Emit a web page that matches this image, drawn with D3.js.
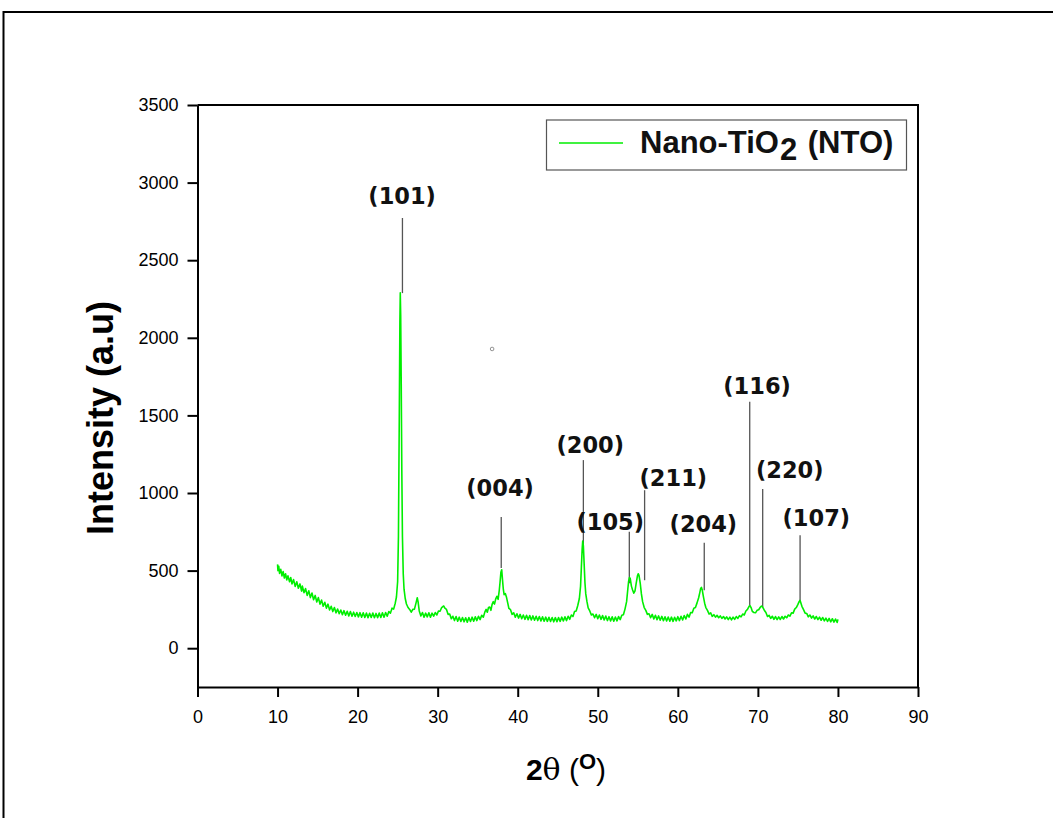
<!DOCTYPE html>
<html>
<head>
<meta charset="utf-8">
<script src="https://cdn.jsdelivr.net/npm/d3@7"></script>
<style>
  body { margin: 0; background: #fff; }
  svg { display: block; }
</style>
</head>
<body>
<script>
// XRD scan of nano-TiO2 (2theta, counts)
const scan = [
  [10.0, 540], [10.05, 500], [10.15, 528], [10.25, 482], [10.4, 508], [10.55, 466], [10.7, 494], [10.85, 452],
  [11.0, 480], [11.15, 440], [11.3, 466], [11.5, 428], [11.65, 455], [11.8, 414], [12.0, 442], [12.2, 398],
  [12.4, 428], [12.6, 386], [12.8, 414], [13.0, 368], [13.1, 400], [13.3, 358], [13.5, 384], [13.7, 340],
  [13.9, 370], [14.1, 326], [14.3, 356], [14.5, 312], [14.7, 340], [14.9, 298], [15.1, 326], [15.3, 284],
  [15.5, 310], [15.7, 270], [15.9, 296], [16.1, 258], [16.3, 284], [16.5, 246], [16.7, 270], [16.9, 236],
  [17.1, 262], [17.3, 228], [17.5, 252], [17.7, 222], [17.9, 246], [18.1, 216], [18.3, 242], [18.5, 212],
  [18.7, 238], [18.9, 208], [19.1, 236], [19.3, 206], [19.5, 232], [19.7, 204], [19.9, 230], [20.1, 202],
  [20.3, 229], [20.5, 200], [20.7, 228], [20.9, 198], [21.1, 226], [21.3, 197], [21.5, 225], [21.7, 198],
  [21.9, 226], [22.1, 196], [22.3, 224], [22.5, 197], [22.7, 226], [22.9, 198], [23.1, 228], [23.3, 200],
  [23.5, 230], [23.7, 206], [23.9, 236], [24.1, 226], [24.3, 258], [24.5, 252], [24.7, 290], [24.85, 330],
  [25.0, 430], [25.1, 720], [25.2, 1450], [25.28, 2100], [25.33, 2290], [25.38, 2150], [25.45, 1700], [25.52, 1150],
  [25.6, 720], [25.7, 480], [25.8, 380], [25.95, 320], [26.1, 285], [26.3, 262], [26.5, 250], [26.7, 232],
  [26.9, 250], [27.1, 252], [27.3, 292], [27.45, 325], [27.55, 300], [27.7, 240], [27.9, 208], [28.1, 230],
  [28.3, 200], [28.5, 226], [28.7, 202], [28.9, 228], [29.1, 200], [29.3, 226], [29.5, 206], [29.7, 230],
  [29.9, 214], [30.1, 240], [30.3, 238], [30.5, 262], [30.75, 272], [30.9, 258], [31.1, 250], [31.3, 218],
  [31.5, 220], [31.7, 190], [31.9, 206], [32.1, 178], [32.3, 204], [32.5, 174], [32.7, 200], [32.9, 172],
  [33.1, 198], [33.3, 170], [33.5, 196], [33.7, 168], [33.9, 198], [34.1, 172], [34.3, 200], [34.5, 174],
  [34.7, 202], [34.9, 178], [35.1, 206], [35.3, 184], [35.5, 212], [35.7, 200], [35.9, 234], [36.05, 250],
  [36.2, 232], [36.35, 262], [36.5, 265], [36.65, 244], [36.8, 282], [36.95, 300], [37.1, 284], [37.25, 318],
  [37.4, 335], [37.55, 315], [37.7, 375], [37.8, 430], [37.9, 490], [38.0, 505], [38.1, 440], [38.2, 380],
  [38.3, 345], [38.45, 352], [38.6, 328], [38.75, 292], [38.9, 256], [39.1, 248], [39.3, 218], [39.5, 228],
  [39.7, 200], [39.9, 222], [40.1, 194], [40.3, 218], [40.5, 190], [40.7, 214], [40.9, 186], [41.1, 212],
  [41.3, 184], [41.5, 210], [41.7, 182], [41.9, 208], [42.1, 180], [42.3, 206], [42.5, 178], [42.7, 204],
  [42.9, 176], [43.1, 202], [43.3, 174], [43.5, 200], [43.7, 173], [43.9, 199], [44.1, 172], [44.3, 198],
  [44.5, 170], [44.7, 197], [44.9, 171], [45.1, 198], [45.3, 173], [45.5, 200], [45.7, 175], [45.9, 202],
  [46.1, 178], [46.3, 206], [46.5, 186], [46.7, 214], [46.9, 204], [47.1, 236], [47.3, 240], [47.5, 275],
  [47.7, 320], [47.85, 400], [47.95, 520], [48.05, 640], [48.12, 690], [48.2, 660], [48.3, 540], [48.4, 420],
  [48.5, 350], [48.65, 300], [48.8, 260], [49.0, 240], [49.2, 214], [49.4, 220], [49.6, 196], [49.8, 218],
  [50.0, 190], [50.2, 214], [50.4, 186], [50.6, 210], [50.8, 182], [51.0, 207], [51.2, 178], [51.4, 203],
  [51.6, 176], [51.8, 202], [52.0, 174], [52.2, 201], [52.4, 176], [52.6, 204], [52.8, 184], [53.0, 212],
  [53.2, 215], [53.4, 252], [53.6, 300], [53.75, 380], [53.85, 430], [53.95, 455], [54.05, 450], [54.2, 400],
  [54.35, 375], [54.5, 355], [54.65, 370], [54.8, 420], [54.95, 465], [55.05, 480], [55.15, 470], [55.3, 420],
  [55.45, 350], [55.6, 300], [55.8, 262], [56.0, 244], [56.2, 218], [56.4, 222], [56.6, 196], [56.8, 218],
  [57.0, 188], [57.2, 212], [57.4, 184], [57.6, 208], [57.8, 180], [58.0, 205], [58.2, 177], [58.4, 202],
  [58.6, 175], [58.8, 201], [59.0, 174], [59.2, 200], [59.4, 173], [59.6, 199], [59.8, 176], [60.0, 203],
  [60.2, 178], [60.4, 206], [60.6, 182], [60.8, 211], [61.0, 188], [61.2, 218], [61.4, 200], [61.6, 230],
  [61.8, 228], [62.0, 258], [62.2, 262], [62.4, 292], [62.6, 325], [62.75, 360], [62.85, 385], [62.95, 392],
  [63.05, 375], [63.2, 330], [63.35, 290], [63.5, 262], [63.7, 244], [63.9, 220], [64.1, 228], [64.3, 205],
  [64.5, 216], [64.7, 200], [64.9, 212], [65.1, 196], [65.3, 208], [65.5, 192], [65.7, 204], [65.9, 188],
  [66.1, 202], [66.3, 184], [66.5, 200], [66.7, 182], [66.9, 200], [67.1, 186], [67.3, 204], [67.5, 192],
  [67.7, 210], [67.9, 202], [68.1, 220], [68.3, 214], [68.5, 240], [68.7, 250], [68.9, 270], [69.0, 275],
  [69.15, 262], [69.3, 238], [69.5, 230], [69.7, 228], [69.9, 244], [70.1, 248], [70.3, 264], [70.45, 272],
  [70.6, 265], [70.8, 245], [71.0, 230], [71.2, 204], [71.4, 212], [71.6, 192], [71.8, 206], [72.0, 186],
  [72.2, 204], [72.4, 184], [72.6, 202], [72.8, 185], [73.0, 204], [73.2, 188], [73.4, 206], [73.6, 196],
  [73.8, 214], [74.0, 206], [74.2, 228], [74.4, 226], [74.6, 252], [74.8, 262], [75.0, 282], [75.15, 300],
  [75.25, 308], [75.35, 295], [75.5, 270], [75.7, 248], [75.9, 226], [76.1, 224], [76.3, 202], [76.5, 214],
  [76.7, 194], [76.9, 208], [77.1, 188], [77.3, 204], [77.5, 184], [77.7, 200], [77.9, 180], [78.1, 198],
  [78.3, 176], [78.5, 194], [78.7, 172], [78.9, 192], [79.1, 170], [79.3, 190], [79.5, 168], [79.7, 188],
  [79.9, 166], [80.0, 186]
];

// hkl labels + their pointer lines
const peakLabels = ["(101)", "(004)", "(200)", "(105)", "(211)", "(204)", "(116)", "(220)", "(107)"];
const peakLinePos = [25.6, 37.94, 48.2, 53.94, 55.85, 63.3, 68.98, 70.6, 75.27];
const peakLineTop = [2772, 846, 1212, 750, 1018, 679, 1588, 1025, 728];
const peakLineBottom = [2288, 516, 621, 419, 438, 374, 277, 266, 298];
const labelPos = [25.56, 37.8, 49.06, 51.56, 59.44, 63.19, 69.9, 73.98, 77.3];
const labelLevel = [2862, 980, 1260, 764, 1045, 750, 1638, 1096, 788];

const xTicks = [0, 10, 20, 30, 40, 50, 60, 70, 80, 90];
const yTicks = [0, 500, 1000, 1500, 2000, 2500, 3000, 3500];

const width = 1053;
const height = 818;
const green = "#00ee00";

const svg = d3.select("body")
  .append("svg")
  .attr("width", width)
  .attr("height", height);

// outer frame (only top/left visible in the picture)
svg.append("rect")
  .attr("x", 3.5).attr("y", 12)
  .attr("width", 1200).attr("height", 1000)
  .attr("fill", "none")
  .attr("stroke", "#000")
  .attr("stroke-width", 2);

const x = d3.scaleLinear().domain([0, 90]).range([197.5, 918]);
const y = d3.scaleLinear().domain([-250, 3500]).range([687, 105]);

// x axis
const xAxis = svg.append("g")
  .attr("transform", `translate(0,${y(-250)})`)
  .call(d3.axisBottom(x).tickValues(xTicks).tickFormat(d3.format("d"))
    .tickSize(10).tickSizeOuter(0).tickPadding(13));
xAxis.selectAll("text")
  .attr("font-family", "Liberation Sans, Arial, sans-serif")
  .attr("font-size", 18)
  .attr("fill", "#000");

// y axis
const yAxis = svg.append("g")
  .attr("transform", `translate(${x(0)},0)`)
  .call(d3.axisLeft(y).tickValues(yTicks).tickFormat(d3.format("d"))
    .tickSize(10).tickSizeOuter(0).tickPadding(9));
yAxis.selectAll("text")
  .attr("font-family", "Liberation Sans, Arial, sans-serif")
  .attr("font-size", 18)
  .attr("fill", "#000");

svg.selectAll(".domain, .tick line")
  .attr("stroke", "#000")
  .attr("stroke-width", 2);

// top + right border of the plot
svg.append("path")
  .attr("d", `M${x(0)},${y(3500)}H${x(90)}V${y(-250)}`)
  .attr("fill", "none")
  .attr("stroke", "#000")
  .attr("stroke-width", 2);

// pointer lines
svg.selectAll(".pointer")
  .data(peakLabels)
  .enter()
  .append("line")
  .attr("class", "pointer")
  .attr("x1", (d, i) => x(peakLinePos[i]))
  .attr("x2", (d, i) => x(peakLinePos[i]))
  .attr("y1", (d, i) => y(peakLineTop[i]))
  .attr("y2", (d, i) => y(peakLineBottom[i]))
  .attr("stroke", "#555")
  .attr("stroke-width", 1.3);

// the scan
const line = d3.line()
  .x(d => x(d[0]))
  .y(d => y(d[1]));

svg.append("path")
  .datum(scan)
  .attr("d", line)
  .attr("fill", "none")
  .attr("stroke", green)
  .attr("stroke-width", 1.6)
  .attr("stroke-linejoin", "round");

// hkl labels
svg.selectAll(".hkl")
  .data(peakLabels)
  .enter()
  .append("text")
  .attr("class", "hkl")
  .attr("x", (d, i) => x(labelPos[i]))
  .attr("y", (d, i) => y(labelLevel[i]))
  .attr("text-anchor", "middle")
  .attr("font-family", "DejaVu Sans, sans-serif")
  .attr("font-weight", "bold")
  .attr("font-size", 22.5)
  .attr("fill", "#111")
  .text(d => d);

// stray little circle in the original
svg.append("circle")
  .attr("cx", x(36.8))
  .attr("cy", y(1928))
  .attr("r", 1.8)
  .attr("fill", "none")
  .attr("stroke", "#777")
  .attr("stroke-width", 0.8);

// legend
const legend = svg.append("g");
legend.append("rect")
  .attr("x", 546.5).attr("y", 120)
  .attr("width", 360).attr("height", 50)
  .attr("fill", "#fff")
  .attr("stroke", "#555")
  .attr("stroke-width", 1.2);
legend.append("line")
  .attr("x1", 559).attr("x2", 623)
  .attr("y1", 143).attr("y2", 143)
  .attr("stroke", green)
  .attr("stroke-width", 1.6);
const legText = legend.append("text")
  .attr("x", 640).attr("y", 153)
  .attr("font-family", "Liberation Sans, Arial, sans-serif")
  .attr("font-weight", "bold")
  .attr("font-size", 31)
  .attr("fill", "#111");
legText.append("tspan").text("Nano-TiO");
legText.append("tspan").attr("dy", 7).attr("dx", 1).text("2");
legText.append("tspan").attr("dy", -7).attr("dx", 2).text(" (NTO)");

// axis titles
const xTitle = svg.append("text")
  .attr("x", 566).attr("y", 780)
  .attr("text-anchor", "middle")
  .attr("font-family", "Liberation Sans, Arial, sans-serif")
  .attr("font-size", 30)
  .attr("fill", "#000");
xTitle.append("tspan").attr("font-weight", "bold").text("2");
xTitle.append("tspan").attr("font-family", "DejaVu Serif, serif").text("\u03b8");
xTitle.append("tspan").text(" (");
xTitle.append("tspan").attr("font-weight", "bold").attr("font-size", 22).attr("dy", -11).text("O");
xTitle.append("tspan").attr("dy", 11).text(")");

svg.append("text")
  .attr("transform", `translate(113,${(y(3500) + y(-250)) / 2 + 22}) rotate(-90)`)
  .attr("text-anchor", "middle")
  .attr("font-family", "Liberation Sans, Arial, sans-serif")
  .attr("font-weight", "bold")
  .attr("font-size", 36)
  .attr("fill", "#000")
  .text("Intensity (a.u)");
</script>
</body>
</html>
